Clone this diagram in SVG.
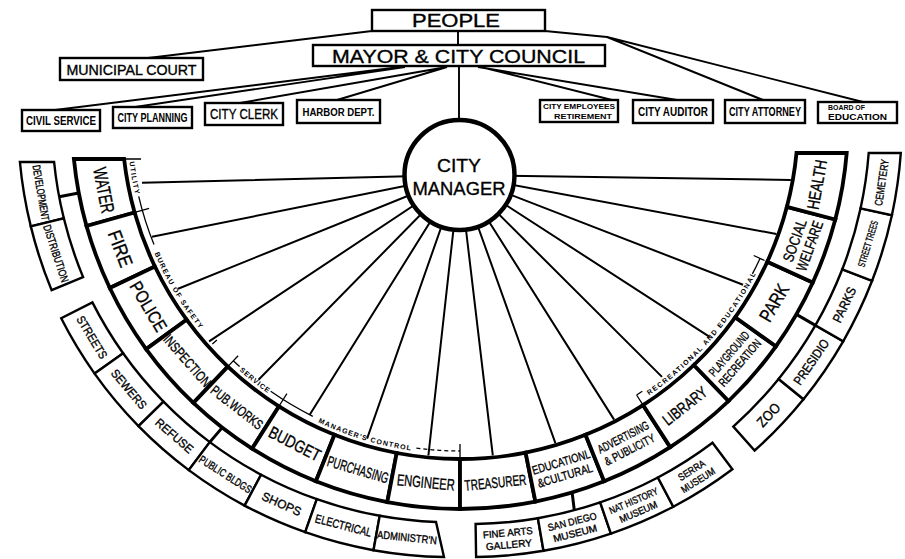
<svg xmlns="http://www.w3.org/2000/svg" width="905" height="559" viewBox="0 0 905 559">
<defs>
<style>
.bx{fill:#fff;stroke:#000;stroke-width:2.4}
.rs{fill:#fff;stroke:#000;stroke-width:3.8}
.ss{fill:#fff;stroke:#000;stroke-width:2.4}
.ln{fill:none;stroke:#000;stroke-width:1.9}
.sp{fill:none;stroke:#000;stroke-width:2}
.cn{fill:none;stroke:#000;stroke-width:3}
.tk{fill:none;stroke:#000;stroke-width:1.3}
.t{font-family:"Liberation Sans Narrow","Liberation Sans",Arial,sans-serif;fill:#000;stroke:#000;stroke-width:0.35;text-anchor:middle;dominant-baseline:central}
.b{font-weight:bold;stroke-width:0}
.lb{font-family:"Liberation Sans",Arial,sans-serif;font-size:7px;font-weight:bold;fill:#000;text-anchor:middle}
</style>
<path id="lp" d="M 127.8 144.2 A 333 333 0 0 0 792.2 144.2"/>
</defs>
<rect width="905" height="559" fill="#fff"/>

<g id="connectors">
<path class="ln" d="M458 31 V45 M459 67 V121 M372 31 L148 58 M400 67 L55 110 M405 67 L135 107 M447 67 L240 103 M447 67 L337 100 M481 67 L612 100 M478 67 L677 100 M545 31 L607 37 L763 100 M607 37 L863 102"/>
<path class="sp" d="M459.5 175 L142 182.8 M459.5 175 L152 236.8 M459.5 175 L178.1 288.7 M459.5 175 L209.1 341.4 M459.5 175 L258.5 379.8 M459.5 175 L309.7 414.8 M459.5 175 L367.1 438.7 M459.5 175 L428.4 455.5 M459.5 175 L492.8 455.4 M459.5 175 L555.4 443.2 M459.5 175 L614.1 419.6 M459.5 175 L662 376.9 M459.5 175 L709.6 336.8 M459.5 175 L743 284.8 M459.5 175 L776.4 234 M459.5 175 L790.8 179.9"/>
<path class="cn" d="M78.7 193 L59.1 196.7 M222.2 427.6 L209.8 442.1 M572.1 492.4 L574.3 510.3 M796.4 314.4 L815.4 325.4"/>
</g>

<g id="people"><rect class="bx" x="372" y="10" width="173" height="21"/><text class="t" x="456" y="21" font-size="18" textLength="88" lengthAdjust="spacingAndGlyphs">PEOPLE</text></g>
<g id="mayor-council"><rect class="bx" x="313" y="45" width="292" height="21" stroke-width="2.8"/><text class="t" x="458.5" y="56" font-size="19" textLength="253" lengthAdjust="spacingAndGlyphs">MAYOR &amp; CITY COUNCIL</text></g>
<g id="municipal-court"><rect class="bx" x="60" y="58" width="143" height="22"/><text class="t" x="131.5" y="69.5" font-size="14" textLength="130" lengthAdjust="spacingAndGlyphs">MUNICIPAL COURT</text></g>
<g id="civil-service"><rect class="bx" x="22" y="110" width="78" height="21"/><text class="t b" x="61" y="120.5" font-size="12" textLength="70" lengthAdjust="spacingAndGlyphs">CIVIL SERVICE</text></g>
<g id="city-planning"><rect class="bx" x="113" y="107" width="79" height="21"/><text class="t b" x="152.5" y="117.5" font-size="12" textLength="70" lengthAdjust="spacingAndGlyphs">CITY PLANNING</text></g>
<g id="city-clerk"><rect class="bx" x="205" y="103" width="78" height="22"/><text class="t" x="244" y="114" font-size="14" textLength="68" lengthAdjust="spacingAndGlyphs">CITY CLERK</text></g>
<g id="harbor-dept"><rect class="bx" x="297" y="100" width="83" height="23"/><text class="t b" x="338.5" y="111.5" font-size="11" textLength="72" lengthAdjust="spacingAndGlyphs">HARBOR DEPT.</text></g>
<g id="city-employees-retirement"><rect class="bx" x="540" y="100" width="78" height="22"/><text class="t b" x="579" y="106.5" font-size="8" textLength="72" lengthAdjust="spacingAndGlyphs">CITY EMPLOYEES</text><text class="t b" x="583" y="116" font-size="8" textLength="58" lengthAdjust="spacingAndGlyphs">RETIREMENT</text></g>
<g id="city-auditor"><rect class="bx" x="633" y="100" width="80" height="23"/><text class="t b" x="673" y="111.5" font-size="13" textLength="70" lengthAdjust="spacingAndGlyphs">CITY AUDITOR</text></g>
<g id="city-attorney"><rect class="bx" x="725" y="100" width="80" height="23"/><text class="t b" x="765" y="111.5" font-size="12" textLength="72" lengthAdjust="spacingAndGlyphs">CITY ATTORNEY</text></g>
<g id="board-of-education"><rect class="bx" x="818" y="102" width="79" height="21"/><text class="t b" x="846.5" y="107.5" font-size="8" textLength="37" lengthAdjust="spacingAndGlyphs">BOARD OF</text><text class="t b" x="857.5" y="116.5" font-size="9" textLength="59" lengthAdjust="spacingAndGlyphs">EDUCATION</text></g>

<g id="city-manager"><circle cx="459.5" cy="175" r="55" fill="#fff" stroke="#000" stroke-width="4.5"/><text class="t" x="459" y="165" font-size="19" textLength="44" lengthAdjust="spacingAndGlyphs">CITY</text><text class="t" x="459" y="188.5" font-size="19" textLength="93" lengthAdjust="spacingAndGlyphs">MANAGER</text></g>

<g id="water"><path class="rs" d="M 73.9 159 A 388 388 0 0 0 86.5 226 L 134.6 212.5 A 338 338 0 0 1 124.1 159 Z"/><text class="t" transform="translate(103.7 190.3) rotate(79)" font-size="19" textLength="46" lengthAdjust="spacingAndGlyphs">WATER</text></g>
<g id="fire"><path class="rs" d="M 86.5 226 A 388 388 0 0 0 109.8 288 L 154.9 266.5 A 338 338 0 0 1 134.6 212.5 Z"/><text class="t" transform="translate(120.2 248.7) rotate(69.4)" font-size="19" textLength="38" lengthAdjust="spacingAndGlyphs">FIRE</text></g>
<g id="police"><path class="rs" d="M 109.8 288 A 388 388 0 0 0 146.1 349.1 L 186.6 319.7 A 338 338 0 0 1 154.9 266.5 Z"/><text class="t" transform="translate(148.1 306.6) rotate(59.25)" font-size="18" textLength="55" lengthAdjust="spacingAndGlyphs">POLICE</text></g>
<g id="inspection"><path class="rs" d="M 146.1 349.1 A 388 388 0 0 0 193.4 402.9 L 227.8 366.6 A 338 338 0 0 1 186.6 319.7 Z"/><text class="t" transform="translate(187.3 360.6) rotate(48.7)" font-size="14" textLength="64" lengthAdjust="spacingAndGlyphs">INSPECTION</text></g>
<g id="pub-works"><path class="rs" d="M 193.4 402.9 A 388 388 0 0 0 252.1 448.6 L 278.9 406.4 A 338 338 0 0 1 227.8 366.6 Z"/><text class="t" transform="translate(237 407.4) rotate(37.9)" font-size="14" textLength="62" lengthAdjust="spacingAndGlyphs">PUB.WORKS</text></g>
<g id="budget"><path class="rs" d="M 252.1 448.6 A 388 388 0 0 0 315.9 481.3 L 334.5 434.8 A 338 338 0 0 1 278.9 406.4 Z"/><text class="t" transform="translate(294.6 444.1) rotate(27.1)" font-size="17" textLength="56" lengthAdjust="spacingAndGlyphs">BUDGET</text></g>
<g id="purchasing"><path class="rs" d="M 315.9 481.3 A 388 388 0 0 0 387.3 502.1 L 396.7 453 A 338 338 0 0 1 334.5 434.8 Z"/><text class="t" transform="translate(358.1 469.4) rotate(16.3)" font-size="15" textLength="63" lengthAdjust="spacingAndGlyphs">PURCHASING</text></g>
<g id="engineer"><path class="rs" d="M 387.3 502.1 A 388 388 0 0 0 460 509 L 460 459 A 338 338 0 0 1 396.7 453 Z"/><text class="t" transform="translate(425.8 482.4) rotate(5.4)" font-size="16" textLength="58" lengthAdjust="spacingAndGlyphs">ENGINEER</text></g>
<g id="treasurer"><path class="rs" d="M 460 509 A 388 388 0 0 0 535.4 501.6 L 525.6 452.6 A 338 338 0 0 1 460 459 Z"/><text class="t" transform="translate(495.4 482.3) rotate(-5.6)" font-size="15" textLength="62" lengthAdjust="spacingAndGlyphs">TREASURER</text></g>
<g id="educational-cultural"><path class="rs" d="M 535.4 501.6 A 388 388 0 0 0 604.1 481.3 L 585.5 434.8 A 338 338 0 0 1 525.6 452.6 Z"/><g transform="translate(563.1 469) rotate(-16.5)"><text class="t" y="-7" font-size="12" textLength="60" lengthAdjust="spacingAndGlyphs">EDUCATIONL</text><text class="t" y="7" font-size="12" textLength="57" lengthAdjust="spacingAndGlyphs">&amp;CULTURAL</text></g></g>
<g id="advertising-publicity"><path class="rs" d="M 604.1 481.3 A 388 388 0 0 0 670.2 447.1 L 643.1 405.1 A 338 338 0 0 1 585.5 434.8 Z"/><g transform="translate(626.5 443.6) rotate(-27.3)"><text class="t" y="-7" font-size="12" textLength="56" lengthAdjust="spacingAndGlyphs">ADVERTISING</text><text class="t" y="7" font-size="12" textLength="55" lengthAdjust="spacingAndGlyphs">&amp; PUBLICITY</text></g></g>
<g id="library"><path class="rs" d="M 670.2 447.1 A 388 388 0 0 0 728.6 401 L 693.9 365 A 338 338 0 0 1 643.1 405.1 Z"/><text class="t" transform="translate(684.9 405.9) rotate(-38.3)" font-size="16" textLength="52" lengthAdjust="spacingAndGlyphs">LIBRARY</text></g>
<g id="playground-recreation"><path class="rs" d="M 728.6 401 A 388 388 0 0 0 775.9 346.3 L 735.2 317.3 A 338 338 0 0 1 693.9 365 Z"/><g transform="translate(734.6 358.4) rotate(-49.15)"><text class="t" y="-7" font-size="12" textLength="55" lengthAdjust="spacingAndGlyphs">PLAYGROUND</text><text class="t" y="7" font-size="12" textLength="58" lengthAdjust="spacingAndGlyphs">RECREATION</text></g></g>
<g id="park"><path class="rs" d="M 775.9 346.3 A 388 388 0 0 0 812.8 282.5 L 767.3 261.7 A 338 338 0 0 1 735.2 317.3 Z"/><text class="t" transform="translate(774.2 302.8) rotate(-59.95)" font-size="19" textLength="40" lengthAdjust="spacingAndGlyphs">PARK</text></g>
<g id="social-welfare"><path class="rs" d="M 812.8 282.5 A 388 388 0 0 0 835.3 219.5 L 786.9 206.8 A 338 338 0 0 1 767.3 261.7 Z"/><g transform="translate(801.9 243.1) rotate(-70.35)"><text class="t" y="-8" font-size="15" textLength="44" lengthAdjust="spacingAndGlyphs">SOCIAL</text><text class="t" y="8" font-size="15" textLength="52" lengthAdjust="spacingAndGlyphs">WELFARE</text></g></g>
<g id="health"><path class="rs" d="M 835.3 219.5 A 388 388 0 0 0 846.7 153 L 796.5 153 A 338 338 0 0 1 786.9 206.8 Z"/><text class="t" transform="translate(817.4 184.7) rotate(-79.9)" font-size="17" textLength="50" lengthAdjust="spacingAndGlyphs">HEALTH</text></g>

<g id="development"><path class="ss" d="M 19.9 162 A 442 442 0 0 0 30.8 226.4 L 63.8 218.3 A 408 408 0 0 1 54.1 162 Z"/><text class="t" transform="translate(41.1 192.6) rotate(80.3)" font-size="11" textLength="56" lengthAdjust="spacingAndGlyphs">DEVELOPMENT</text></g>
<g id="distribution"><path class="ss" d="M 30.8 226.4 A 442 442 0 0 0 51.6 290.1 L 83.1 277.1 A 408 408 0 0 1 63.8 218.3 Z"/><text class="t" transform="translate(56.2 253.4) rotate(71.85)" font-size="11" textLength="60" lengthAdjust="spacingAndGlyphs">DISTRIBUTION</text></g>

<g id="streets"><path class="ss" d="M 61.2 318.3 A 436 436 0 0 0 94.6 373.6 L 123.1 353.3 A 401 401 0 0 1 92.4 302.4 Z"/><text class="t" transform="translate(91.8 337.4) rotate(58.85)" font-size="12" textLength="48" lengthAdjust="spacingAndGlyphs">STREETS</text></g>
<g id="sewers"><path class="ss" d="M 94.6 373.6 A 436 436 0 0 0 138.5 426.1 L 163.5 401.6 A 401 401 0 0 1 123.1 353.3 Z"/><text class="t" transform="translate(128.8 389.3) rotate(50.1)" font-size="12" textLength="48" lengthAdjust="spacingAndGlyphs">SEWERS</text></g>
<g id="refuse"><path class="ss" d="M 138.5 426.1 A 436 436 0 0 0 188.8 470.1 L 209.8 442.1 A 401 401 0 0 1 163.5 401.6 Z"/><text class="t" transform="translate(174.3 435.9) rotate(41.2)" font-size="12" textLength="46" lengthAdjust="spacingAndGlyphs">REFUSE</text></g>
<g id="public-bldgs"><path class="ss" d="M 188.8 470.1 A 436 436 0 0 0 244.6 505.6 L 261.1 474.7 A 401 401 0 0 1 209.8 442.1 Z"/><text class="t" transform="translate(225.5 474.2) rotate(32.45)" font-size="11" textLength="60" lengthAdjust="spacingAndGlyphs">PUBLIC BLDGS</text></g>
<g id="shops"><path class="ss" d="M 244.6 505.6 A 436 436 0 0 0 305.2 532.2 L 316.8 499.2 A 401 401 0 0 1 261.1 474.7 Z"/><text class="t" transform="translate(281.5 504.1) rotate(23.75)" font-size="12" textLength="42" lengthAdjust="spacingAndGlyphs">SHOPS</text></g>
<g id="electrical"><path class="ss" d="M 305.2 532.2 A 436 436 0 0 0 373.5 550.2 L 379.7 515.8 A 401 401 0 0 1 316.8 499.2 Z"/><text class="t" transform="translate(343.4 525.7) rotate(14.75)" font-size="12" textLength="58" lengthAdjust="spacingAndGlyphs">ELECTRICAL</text></g>
<g id="administration"><path class="ss" d="M 373.5 550.2 A 436 436 0 0 0 444 557 L 436 522 A 401 401 0 0 1 379.7 515.8 Z"/><text class="t" transform="translate(407 537.3) rotate(5.9)" font-size="11" textLength="60" lengthAdjust="spacingAndGlyphs">ADMINISTR'N</text></g>

<g id="fine-arts-gallery"><path class="ss" d="M 476.1 557 A 436 436 0 0 0 543.5 550.8 L 537.9 518.2 A 403 403 0 0 1 475.6 524 Z"/><g transform="translate(508.4 538.7) rotate(-5.25)"><text class="t" y="-6" font-size="10" textLength="50" lengthAdjust="spacingAndGlyphs">FINE ARTS</text><text class="t" y="6" font-size="10" textLength="46" lengthAdjust="spacingAndGlyphs">GALLERY</text></g></g>
<g id="san-diego-museum"><path class="ss" d="M 543.5 550.8 A 436 436 0 0 0 610.9 533.6 L 600.2 502.4 A 403 403 0 0 1 537.9 518.2 Z"/><g transform="translate(573.6 527.5) rotate(-14.3)"><text class="t" y="-6" font-size="10" textLength="50" lengthAdjust="spacingAndGlyphs">SAN DIEGO</text><text class="t" y="6" font-size="10" textLength="45" lengthAdjust="spacingAndGlyphs">MUSEUM</text></g></g>
<g id="nat-history-museum"><path class="ss" d="M 610.9 533.6 A 436 436 0 0 0 673.3 506.7 L 657.9 477.5 A 403 403 0 0 1 600.2 502.4 Z"/><g transform="translate(635.9 506.3) rotate(-23.3)"><text class="t" y="-6" font-size="10" textLength="52" lengthAdjust="spacingAndGlyphs">NAT HISTORY</text><text class="t" y="6" font-size="10" textLength="40" lengthAdjust="spacingAndGlyphs">MUSEUM</text></g></g>
<g id="serra-museum"><path class="ss" d="M 673.3 506.7 A 436 436 0 0 0 732.4 469.2 L 712.5 442.8 A 403 403 0 0 1 657.9 477.5 Z"/><g transform="translate(694.8 475.2) rotate(-32.4)"><text class="t" y="-6" font-size="10" textLength="30" lengthAdjust="spacingAndGlyphs">SERRA</text><text class="t" y="6" font-size="10" textLength="38" lengthAdjust="spacingAndGlyphs">MUSEUM</text></g></g>

<g id="zoo"><path class="ss" d="M 754.6 450.5 A 442 442 0 0 0 803.5 399.2 L 778.6 379 A 410 410 0 0 1 733.3 426.6 Z"/><text class="t" transform="translate(768.5 414.8) rotate(-46.4)" font-size="14" textLength="27" lengthAdjust="spacingAndGlyphs">ZOO</text></g>
<g id="presidio"><path class="ss" d="M 803.5 399.2 A 442 442 0 0 0 843.2 341.3 L 815.4 325.4 A 410 410 0 0 1 778.6 379 Z"/><text class="t" transform="translate(811.3 362) rotate(-55.55)" font-size="13" textLength="52" lengthAdjust="spacingAndGlyphs">PRESIDIO</text></g>
<g id="parks"><path class="ss" d="M 843.2 341.3 A 442 442 0 0 0 872.1 280.8 L 842.3 269.3 A 410 410 0 0 1 815.4 325.4 Z"/><text class="t" transform="translate(844.3 304.7) rotate(-64.45)" font-size="13" textLength="38" lengthAdjust="spacingAndGlyphs">PARKS</text></g>
<g id="street-trees"><path class="ss" d="M 872.1 280.8 A 442 442 0 0 0 891.9 215.2 L 860.6 208.3 A 410 410 0 0 1 842.3 269.3 Z"/><text class="t" transform="translate(867.9 243.8) rotate(-73.25)" font-size="10" textLength="48" lengthAdjust="spacingAndGlyphs">STREET TREES</text></g>
<g id="cemetery"><path class="ss" d="M 891.9 215.2 A 442 442 0 0 0 900.8 153 L 868.7 153 A 410 410 0 0 1 860.6 208.3 Z"/><text class="t" transform="translate(881.5 182.5) rotate(-81.7)" font-size="11" textLength="47" lengthAdjust="spacingAndGlyphs">CEMETERY</text></g>

<g id="group-labels">
<path class="tk" d="M124 159 H141 M138.7 196.4 A 330 330 0 0 0 154 244.6 M149.1 208.4 L135.6 212.2 M216.9 339.9 L212.4 343.9 M238.1 355.7 L228.5 365.9 M233.3 360.8 A 330 330 0 0 0 239.6 366.6 M270.7 391.3 A 330 330 0 0 0 312.8 416.3 M286.9 393.7 L279.4 405.5 M460 444 V458 M636.6 395 L642.6 404.3 M636.6 395 L642.3 391.3 M752.4 273.9 A 330 330 0 0 0 760 258.4 M753.7 255.5 L764.6 260.5"/>
<path class="tk" stroke-dasharray="4 3" d="M416.4 448.1 A 330 330 0 0 0 460 451"/>
<text class="lb"><textPath href="#lp" startOffset="34.3" textLength="33" lengthAdjust="spacing">UTILITY</textPath></text>
<text class="lb"><textPath href="#lp" startOffset="156.9" textLength="88" lengthAdjust="spacing">BUREAU OF SAFETY</textPath></text>
<text class="lb"><textPath href="#lp" startOffset="276.7" textLength="36" lengthAdjust="spacing">SERVICE</textPath></text>
<text class="lb"><textPath href="#lp" startOffset="401.6" textLength="97" lengthAdjust="spacing">MANAGER'S CONTROL</textPath></text>
<text class="lb"><textPath href="#lp" startOffset="782.3" textLength="163" lengthAdjust="spacing">RECREATIONAL AND EDUCATIONAL</textPath></text>
</g>
</svg>
